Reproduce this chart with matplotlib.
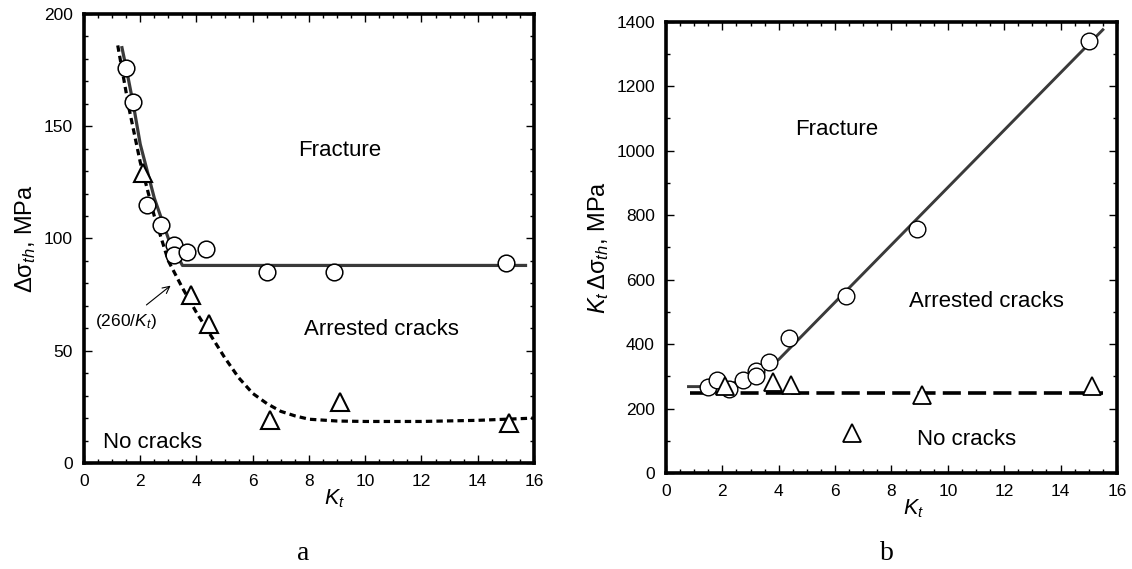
import matplotlib
matplotlib.use('Agg')
import matplotlib.pyplot as plt
from matplotlib.ticker import MultipleLocator

plt.rcParams['font.family'] = ['Liberation Sans', 'DejaVu Sans']
plt.rcParams['mathtext.fontset'] = 'custom'
plt.rcParams['mathtext.rm'] = 'Liberation Sans'
plt.rcParams['mathtext.it'] = 'Liberation Sans:italic'

# panel a: threshold stress range vs Kt
kt_circ_a = [1.5, 1.75, 2.25, 2.75, 3.2, 3.2, 3.65, 4.35, 6.5, 8.9, 15.0]
ds_circ_a = [176, 161, 115, 106, 97, 92.5, 94, 95.5, 85, 85, 89]
kt_tri_a = [2.1, 3.8, 4.45, 6.6, 9.1, 15.1]
ds_tri_a = [129, 75, 62, 19, 27, 18]

kt_fit_a = [1.35, 1.5, 1.75, 2.0, 2.5, 3.0, 3.5, 15.7]
ds_fit_a = [185, 176, 160, 142, 118, 100, 88, 88]

kt_dash_a = [1.2, 1.6, 2.0, 2.5, 3.0, 3.5, 4.0, 4.5, 5.0, 5.5, 6.0, 6.5, 7.0, 7.5, 8.0, 9.0, 10.0, 12.0, 14.0, 16.0]
ds_dash_a = [186, 158, 134, 110, 90, 78, 67, 57, 47, 38, 31, 26.5, 23, 21, 19.5, 18.7, 18.5, 18.5, 19, 20]

# panel b: Kt * threshold stress range vs Kt
kt_circ_b = [1.5, 1.8, 2.25, 2.75, 3.2, 3.2, 3.65, 4.35, 6.4, 8.9, 15.0]
ks_circ_b = [268, 290, 262, 290, 315, 300, 345, 418, 548, 757, 1340]
kt_tri_b = [2.1, 3.8, 4.45, 6.6, 9.1, 15.1]
ks_tri_b = [270, 283, 272, 125, 243, 270]

kt_fit_b = [0.8, 1.3, 1.7, 2.0, 2.5, 3.0, 3.5, 4.0, 15.5]
ks_fit_b = [268, 268, 269, 272, 282, 300, 325, 352, 1375]

kt_dash_b = [0.85, 15.5]
ks_dash_b = [248, 248]

fig = plt.figure(figsize=(11.32, 5.69), dpi=100)
ax1 = fig.add_axes([0.0742, 0.1863, 0.3975, 0.7891])
ax2 = fig.add_axes([0.5883, 0.1687, 0.3984, 0.7932])


def style(ax, ymajor, yminor, ymax, xlab_pos):
    ax.set_xlim(0, 16)
    ax.set_ylim(0, ymax)
    ax.xaxis.set_major_locator(MultipleLocator(2))
    ax.xaxis.set_minor_locator(MultipleLocator(0.5))
    ax.yaxis.set_major_locator(MultipleLocator(ymajor))
    ax.yaxis.set_minor_locator(MultipleLocator(yminor))
    ax.tick_params(which='both', direction='in', top=True, right=True, labelsize=12.5)
    ax.tick_params(which='major', length=6, width=1)
    ax.tick_params(which='minor', length=3, width=1)
    ax.tick_params(axis='x', which='major', pad=8)
    ax.tick_params(axis='y', which='major', pad=8)
    for s in ax.spines.values():
        s.set_linewidth(2.6)
    ax.set_xlabel('$K_t$', fontsize=15.5, labelpad=-1)
    ax.xaxis.label.set_x(xlab_pos)


# ---- panel a
ax1.plot(kt_dash_a, ds_dash_a, color='black', lw=2.3, ls=(0, (2.0, 1.3)), zorder=2)
ax1.plot(kt_fit_a, ds_fit_a, color='#3a3a3a', lw=2.3, zorder=2)
ax1.plot(kt_circ_a, ds_circ_a, 'o', ms=12, mfc='white', mec='black', mew=1.1, zorder=3)
ax1.plot(kt_tri_a, ds_tri_a, '^', ms=13, mfc='white', mec='black', mew=1.5, zorder=3)
style(ax1, 50, 10, 200, 8.9 / 16)
ax1.set_ylabel(r'$\mathrm{\Delta\sigma}_{th}$, MPa', fontsize=17, labelpad=4)
ax1.text(9.1, 139, 'Fracture', fontsize=16, ha='center', va='center')
ax1.text(10.57, 59.5, 'Arrested cracks', fontsize=16, ha='center', va='center')
ax1.text(2.43, 9, 'No cracks', fontsize=16, ha='center', va='center')
ax1.annotate('(260/$K_t$)', xy=(3.08, 79), xytext=(1.48, 63), fontsize=12.5,
             ha='center', va='center',
             arrowprops=dict(arrowstyle='->', color='black', lw=0.8, shrinkA=5, shrinkB=0))

# ---- panel b
ax2.plot(kt_dash_b, ks_dash_b, color='black', lw=2.6, ls=(0, (5, 2)), zorder=2)
ax2.plot(kt_fit_b, ks_fit_b, color='#3a3a3a', lw=2.1, zorder=2)
ax2.plot(kt_circ_b, ks_circ_b, 'o', ms=12, mfc='white', mec='black', mew=1.0, zorder=3)
ax2.plot(kt_tri_b, ks_tri_b, '^', ms=13, mfc='white', mec='black', mew=1.3, zorder=3)
style(ax2, 200, 100, 1400, 8.8 / 16)
ax2.set_ylabel(r'$K_t\,\mathrm{\Delta\sigma}_{th}$, MPa', fontsize=17, labelpad=4)
ax2.text(6.06, 1064, 'Fracture', fontsize=16, ha='center', va='center')
ax2.text(11.38, 531, 'Arrested cracks', fontsize=16, ha='center', va='center')
ax2.text(10.67, 104, 'No cracks', fontsize=16, ha='center', va='center')

fig.text(0.2677, 0.016, 'a', fontsize=20, family='Liberation Serif', ha='center', va='baseline')
fig.text(0.7836, 0.016, 'b', fontsize=20, family='Liberation Serif', ha='center', va='baseline')

fig.savefig('out.png', dpi=100)
